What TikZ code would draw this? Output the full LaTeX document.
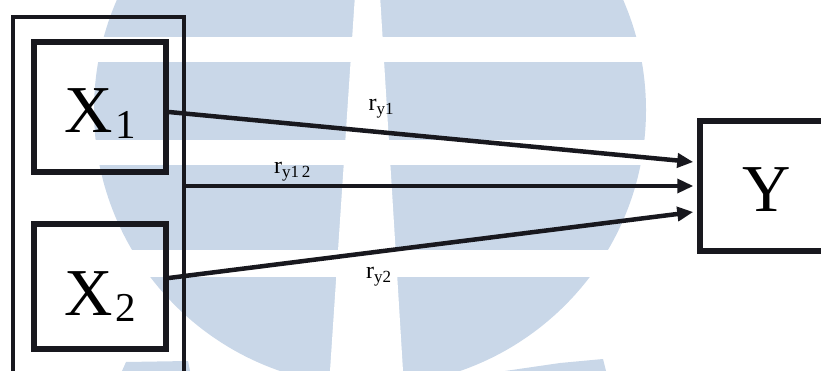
\documentclass[tikz,border=0pt]{standalone}
\usepackage{fontspec}
\setmainfont{Liberation Serif}
\usepackage{xcolor}
\usepackage{tikz}
\usetikzlibrary{arrows.meta, positioning}

\definecolor{wmblue}{RGB}{201,215,232}
\definecolor{ink}{RGB}{24,24,30}

% variable with lowered index
\newcommand{\varsub}[2]{#1\hspace{3pt}\raisebox{-6pt}{\fontsize{41}{41}\selectfont #2}}
% correlation label
\newcommand{\rlab}[1]{r\raisebox{-4pt}{\fontsize{17}{17}\selectfont #1}}

\begin{document}
\begin{tikzpicture}[x=1pt,y=-1pt,
    varbox/.style={draw=ink, line width=5.5pt, minimum width=132pt, inner sep=0pt,
      text height=51pt, text depth=0pt, font=\fontsize{67}{67}\selectfont},
    groupbox/.style={draw=ink, line width=3.5pt, minimum width=171pt, minimum height=380pt},
    linkarrow/.style={draw=ink, line width=4.5pt, -{Triangle[length=16pt,width=14pt]}},
    lab/.style={font=\fontsize{24}{24}\selectfont, inner sep=1pt}]
  \useasboundingbox (0,0) rectangle (821,371);
  \clip (0,0) rectangle (821,371);

  % watermark disk
  \begin{scope}
    \clip (370,110) circle (276pt);
    \fill[wmblue] (0,0) rectangle (821,371);
  \end{scope}
  \fill[wmblue] (122,371) -- (126,362) -- (188,361) -- (190,371) -- cycle;
  \fill[wmblue] (505,371) -- (560,363) -- (603,359) -- (606,371) -- cycle;

  % watermark stripes
  \fill[white] (355,-5) -- (380,-5) -- (403,371) -- (330,371) -- cycle;
  \foreach \ya/\yb in {37/62, 140/165, 250/277}{
    \fill[white] (0,\ya) rectangle (821,\yb);
  }

  % boxes
  \node[groupbox] (grp) at (98.5,207) {};
  \node[varbox, minimum height=130pt] (X1) at (100,107) {\varsub{X}{1}};
  \node[varbox, minimum height=125pt, text height=58pt] (X2) at (100,286.5) {\varsub{X}{2}};
  \node[varbox, minimum width=134pt, minimum height=130pt] (Y) at (767,186) {Y};

  % paths to Y
  \draw[linkarrow] ([yshift=-5pt]X1.east) -- ([xshift=-4pt,yshift=24pt]Y.west)
    node[lab, pos=0.405, above=11pt] (ry1) {\rlab{y1}};
  \draw[linkarrow, line width=3.5pt] (grp.east |- Y.west) -- ([xshift=-4pt]Y.west)
    node[lab, pos=0.21, above=2pt] (ry12) {\rlab{y1\,2}};
  \draw[linkarrow] ([yshift=8.5pt]X2.east) -- ([xshift=-4pt,yshift=-26pt]Y.west)
    node[lab, pos=0.40, below=12pt] (ry2) {\rlab{y2}};
\end{tikzpicture}
\end{document}
